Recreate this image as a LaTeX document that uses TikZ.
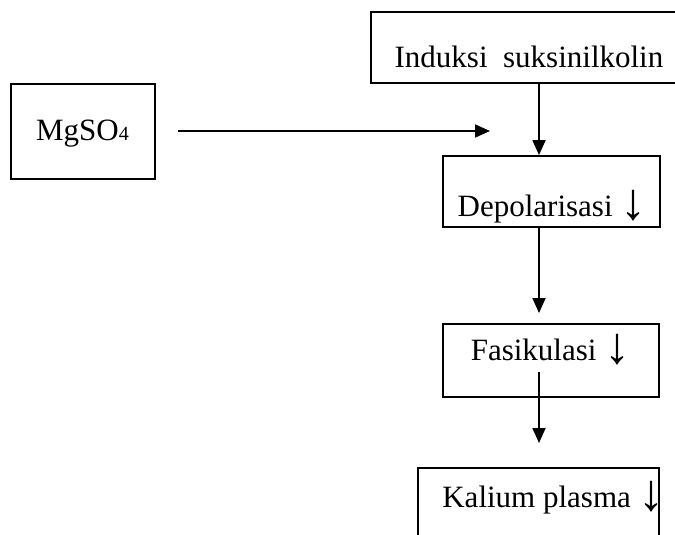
\documentclass[tikz,border=0pt]{standalone}
\usepackage{fontspec}
\setmainfont{Liberation Serif}
\usetikzlibrary{arrows.meta}
% a larger down arrow for the "decrease" marks
\newcommand{\downmark}{\raisebox{-3pt}{\fontsize{52}{52}\selectfont ↓}}
\begin{document}
\begin{tikzpicture}[x=1pt,y=-1pt,
  box/.style={draw, line width=1.8pt, rectangle, inner sep=0pt},
  lbl/.style={inner sep=0pt, anchor=base, font=\fontsize{31}{37}\selectfont},
  flow/.style={line width=1.8pt, -{Triangle[length=15pt,width=13pt]}}]
  \useasboundingbox (0,0) rectangle (675,535);
  \clip (0,0) rectangle (675,535);

  % boxes
  \node[box, minimum width=319pt, minimum height=71pt] (ind) at (530.5,47.5) {};
  \node[box, minimum width=144pt, minimum height=95pt] (mg) at (83,131.5) {};
  \node[box, minimum width=217pt, minimum height=71pt] (dep) at (551.5,191.5) {};
  \node[box, minimum width=216pt, minimum height=73pt] (fas) at (551,360.5) {};
  \node[box, minimum width=241pt, minimum height=100pt] (kal) at (538.5,518) {};

  % labels
  \node[lbl] (indt) at (529,67) {Induksi\ \ suksinilkolin};
  \node[lbl] (mgt) at (82.5,140) {MgSO{\fontsize{20}{24}\selectfont 4}};
  \node[lbl] (dept) at (552,216) {Depolarisasi \downmark};
  \node[lbl] (fast) at (550.5,360) {Fasikulasi \downmark};
  \node[lbl] (kalt) at (553.5,507) {Kalium plasma \downmark};

  % free ends of the connectors
  \coordinate (mgfrom) at (178,131);
  \coordinate (mgto) at (490,131);
  \coordinate (depto) at (539,313);
  \coordinate (fasfrom) at (539,372);
  \coordinate (kalto) at (539,443);

  % connectors
  \draw[flow] (mgfrom) -- (mgto);
  \draw[flow] (539,0 |- ind.south) -- (539,0 |- dep.north);
  \draw[flow] (539,0 |- dep.south) -- (depto);
  \draw[flow] (fasfrom) -- (kalto);
\end{tikzpicture}
\end{document}
